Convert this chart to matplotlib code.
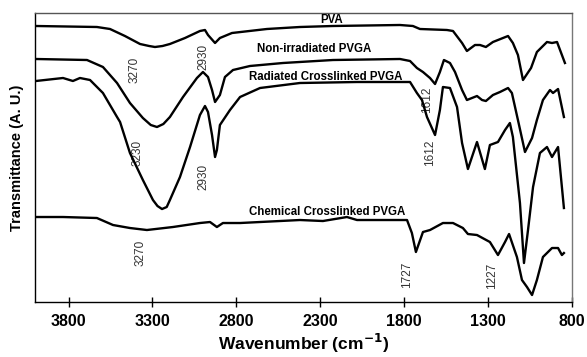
import numpy as np
import matplotlib
matplotlib.use("Agg")
import matplotlib.pyplot as plt

plt.rcParams['font.family'] = ['Liberation Sans', 'DejaVu Sans']

# FTIR spectra (wavenumber, transmittance in arbitrary units)
pva_w = [3995, 3631, 3553, 3464, 3374, 3320, 3285, 3240, 3196, 3106, 3017, 2987, 2969, 2927,
         2898, 2826, 2618, 2421, 2224, 1825, 1748, 1706, 1545, 1509, 1455, 1426, 1378, 1348,
         1313, 1271, 1181, 1152, 1122, 1092, 1044, 1009, 949, 919, 889, 842]
pva_t = [276, 275, 273, 266, 258, 256, 255, 256, 258, 264, 271, 272, 267, 259,
         264, 269, 273, 275, 276, 277, 276, 273, 272, 271, 259, 251, 257, 257,
         255, 260, 266, 259, 247, 222, 234, 250, 260, 259, 260, 239]

nonirr_w = [3995, 3690, 3595, 3511, 3434, 3357, 3310, 3273, 3235, 3196, 3118, 3035, 2999, 2969,
            2945, 2927, 2898, 2868, 2820, 2719, 2522, 2224, 1825, 1765, 1724, 1688, 1646, 1616,
            1587, 1563, 1527, 1497, 1455, 1426, 1366, 1336, 1313, 1271, 1229, 1181, 1158, 1122,
            1080, 1038, 1009, 973, 931, 913, 883, 848]
nonirr_t = [243, 242, 235, 219, 199, 184, 177, 175, 178, 185, 205, 224, 230, 225,
            212, 200, 207, 225, 232, 236, 239, 242, 243, 241, 234, 230, 224, 218,
            230, 242, 239, 230, 212, 202, 206, 202, 201, 207, 210, 214, 209, 182,
            150, 164, 182, 202, 212, 209, 213, 185]

rad_w = [3995, 3833, 3774, 3732, 3672, 3595, 3511, 3493, 3434, 3357, 3297, 3270, 3243, 3215,
         3196, 3136, 3076, 3017, 2987, 2969, 2945, 2927, 2916, 2898, 2838, 2778, 2659, 2421,
         2081, 1765, 1724, 1694, 1664, 1616, 1587, 1569, 1527, 1485, 1455, 1420, 1366, 1319,
         1289, 1241, 1199, 1170, 1152, 1110, 1086, 1062, 1032, 991, 949, 919, 883, 848]
rad_t = [221, 224, 221, 224, 222, 209, 185, 180, 149, 122, 102, 96, 93, 95,
         102, 125, 155, 187, 196, 190, 167, 145, 152, 177, 192, 205, 214, 219,
         220, 220, 209, 202, 185, 167, 192, 215, 214, 195, 159, 133, 160, 133,
         157, 160, 172, 179, 165, 99, 39, 72, 115, 149, 155, 145, 155, 94]

chem_w = [3995, 3833, 3631, 3535, 3434, 3333, 3178, 3017, 2957, 2916, 2880, 2778, 2421, 2284,
          2141, 2081, 1986, 1783, 1754, 1730, 1688, 1646, 1569, 1509, 1450, 1420, 1366, 1289,
          1241, 1199, 1175, 1128, 1098, 1068, 1038, 1009, 973, 919, 883, 860, 848]
chem_t = [85, 85, 84, 77, 74, 72, 75, 79, 80, 75, 79, 79, 82, 81,
          85, 82, 82, 82, 69, 50, 70, 72, 79, 79, 74, 68, 67, 60,
          47, 60, 68, 45, 22, 15, 7, 22, 45, 54, 54, 47, 49]

xticks = [3800, 3300, 2800, 2300, 1800, 1300, 800]

# curve names and peak marks
names = ["PVA", "Non-irradiated PVGA", "Radiated Crosslinked PVGA", "Chemical Crosslinked PVGA"]
name_w = [2230, 2338, 2266, 2260]
name_t = [282, 253, 225, 90]

peaks = ["3270", "2930", "3230", "2930", "1612", "1612", "3270", "1727", "1227"]
peak_w = [3404, 2999, 3386, 2999, 1664, 1646, 3374, 1783, 1276]
peak_t = [232, 245, 149, 125, 202, 149, 49, 27, 26]

fig = plt.figure(figsize=(5.87, 3.57), dpi=100)
ax = fig.add_axes([0.0596, 0.154, 0.9148, 0.8096])

for lab, w, t in zip(peaks, peak_w, peak_t):
    ax.text(w, t, lab, rotation=90, ha='center', va='center', fontsize=8.5,
            color='#333333', zorder=1)

for w, t in [(pva_w, pva_t), (nonirr_w, nonirr_t), (rad_w, rad_t), (chem_w, chem_t)]:
    ax.plot(w, t, color='black', lw=1.7, zorder=2, solid_joinstyle='round')

for lab, w, t in zip(names, name_w, name_t):
    ax.text(w, t, lab, ha='center', va='center', fontsize=8.3, fontweight='bold', zorder=3)

ax.set_xlim(4000, 800)
ax.set_ylim(0, 289)
ax.set_xticks(xticks)
ax.set_xticklabels([str(v) for v in xticks], fontsize=11.5, fontweight='bold')
ax.tick_params(axis='x', direction='inout', length=7, width=1, pad=5)
ax.set_yticks([])
for s in ax.spines.values():
    s.set_linewidth(1.0)
ax.spines['top'].set_color('#555555')
ax.spines['right'].set_color('#777777')

ax.set_xlabel("Wavenumber (cm$^{\\mathbf{-1}}$)", fontsize=12.5, fontweight='bold', labelpad=2)
ax.set_ylabel("Transmittance (A. U.)", fontsize=10.5, fontweight='bold', labelpad=8)

fig.savefig("out.png", dpi=100)
